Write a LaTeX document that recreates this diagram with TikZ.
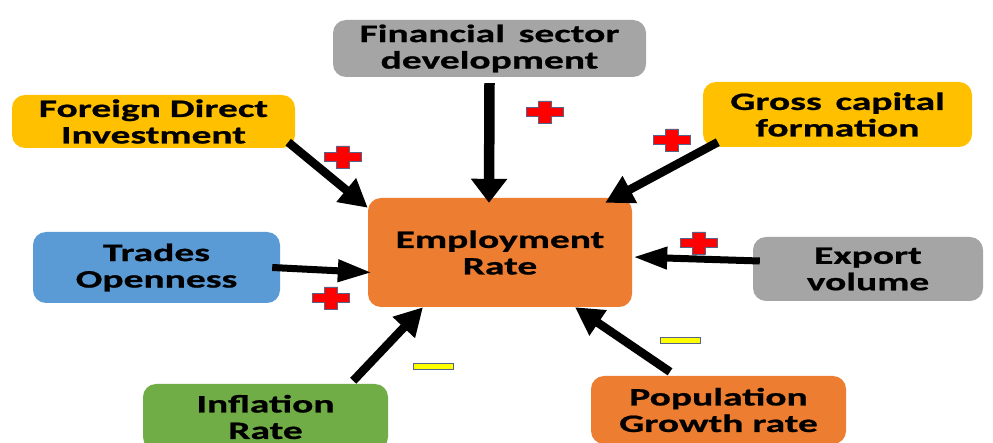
\documentclass[tikz,border=0pt]{standalone}
\usepackage{fontspec}
\setmainfont{Carlito}[FakeStretch=1.58, BoldFeatures={FakeBold=0.8}]
\usetikzlibrary{arrows.meta}
\definecolor{boxgray}{HTML}{A5A5A5}
\definecolor{boxyellow}{HTML}{FFC000}
\definecolor{boxblue}{HTML}{5B9BD5}
\definecolor{boxorange}{HTML}{ED7D31}
\definecolor{boxgreen}{HTML}{70AD47}
\definecolor{signedge}{HTML}{56648C}
\definecolor{plusred}{HTML}{FF0000}
\definecolor{minusyellow}{HTML}{FFFF00}
\newcommand{\widegap}{\hspace{0.55em}}
\begin{document}
\begin{tikzpicture}[x=1pt,y=-1pt,
  box/.style={rounded corners=13pt, inner sep=0pt, align=center,
    font=\fontsize{25}{26.5}\selectfont\bfseries, text=black},
  link/.style n args={3}{line width=#1, -{Triangle[length=#2,width=#3]}},
  plussign/.pic={\filldraw[fill=plusred, draw=signedge, line width=0.8pt]
    (-18.5,-4.5) -- (-6.5,-4.5) -- (-6.5,-11) -- (6.5,-11) -- (6.5,-4.5) --
    (18.5,-4.5) -- (18.5,4.5) -- (6.5,4.5) -- (6.5,11) -- (-6.5,11) --
    (-6.5,4.5) -- (-18.5,4.5) -- cycle;},
  minussign/.pic={\filldraw[fill=minusyellow, draw=signedge, line width=0.8pt]
    (-20,-3) rectangle (20,3);}
]
\clip (0,0) rectangle (993,443);
\fill[white] (0,0) rectangle (993,443);

% factor boxes
\node[box, fill=boxgray,   minimum width=313pt, minimum height=57pt]  (fin)    at (489.5,48.5) {Financial\widegap sector\\development};
\node[box, fill=boxyellow, minimum width=283pt, minimum height=53pt]  (fdi)    at (153.5,121.5) {Foreign Direct\\Investment};
\node[box, fill=boxyellow, minimum width=269pt, minimum height=65pt]  (gross)  at (837.5,114.5) {Gross\widegap capital\\formation};
\node[box, fill=boxblue,   minimum width=247pt, minimum height=71pt]  (trades) at (156.5,267.5) {Trades\\Openness};
\node[box, fill=boxorange, minimum width=264pt, minimum height=109pt] (emp)    at (500,252.5) {Employment\\Rate};
\node[box, fill=boxgray,   minimum width=230pt, minimum height=64pt]  (export) at (868,269) {Export\\volume};
\node[box, fill=boxgreen,  minimum width=245pt, minimum height=66pt]  (infl)   at (265.5,417) {Inflation\\Rate};
\node[box, fill=boxorange, minimum width=255pt, minimum height=68pt]  (pop)    at (718.5,410) {Population\\Growth rate};

% influences on the employment rate
\draw[link={8.5pt}{28pt}{29pt}]  ([shift={(-7,-6)}]fdi.south east)   -- ([shift={(0,10)}]emp.north west);
\draw[link={10.5pt}{24pt}{35pt}] ([shift={(0,6)}]fin.south)          -- ([shift={(-11,5)}]emp.north);
\draw[link={8.5pt}{28pt}{29pt}]  ([shift={(15,-5)}]gross.south west) -- ([shift={(-27,5)}]emp.north east);
\draw[link={7pt}{34pt}{21pt}]    ([shift={(-8,0)}]trades.east)       -- ([shift={(4,20)}]emp.west);
\draw[link={7pt}{34pt}{21pt}]    ([shift={(7,-8)}]export.west)       -- ([shift={(1,4.5)}]emp.east);
\draw[link={8.5pt}{28pt}{29pt}]  ([shift={(-35,-3)}]infl.north east) -- ([shift={(-77,0)}]emp.south);
\draw[link={8.5pt}{28pt}{29pt}]  ([shift={(-48.5,-4)}]pop.north)     -- ([shift={(75,0)}]emp.south);

% signs of the effects
\pic at (545,112) {plussign};
\pic at (343,157) {plussign};
\pic at (672,140) {plussign};
\pic at (699,243) {plussign};
\pic at (331,298) {plussign};
\pic at (433,366) {minussign};
\pic at (680,340) {minussign};
\end{tikzpicture}
\end{document}
